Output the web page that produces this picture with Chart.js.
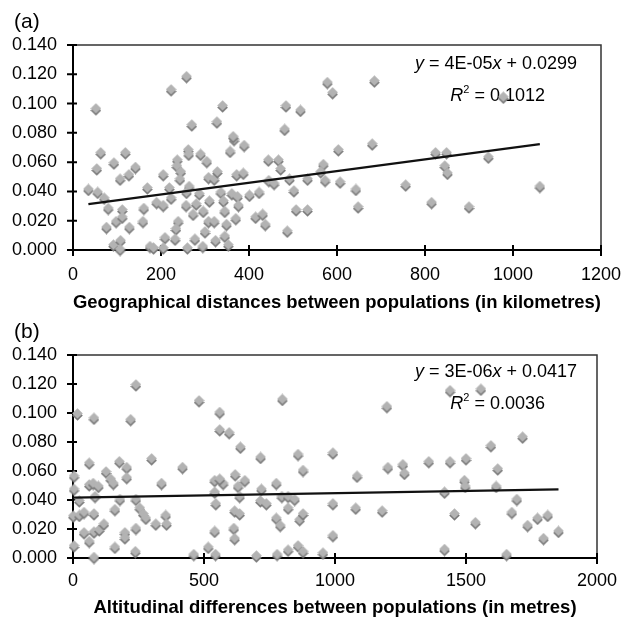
<!DOCTYPE html>
<html>
<head>
<meta charset="utf-8">
<title>Pairwise values vs distance and altitude</title>
<script src="https://cdn.jsdelivr.net/npm/chart.js@4.4.0/dist/chart.umd.min.js"></script>
<style>
  html, body { margin: 0; padding: 0; background: #fff; }
  #wrap { width: 634px; height: 622px; }
  canvas { display: block; }
</style>
</head>
<body>
<div id="wrap">
  <canvas id="chartA" width="634" height="318"></canvas>
  <canvas id="chartB" width="634" height="304"></canvas>
</div>
<script>
const FONT = "'Liberation Sans', Arial, sans-serif";

// (a) geographical distance between populations (km)
const geoDistKm = [
  35, 52, 63, 54, 56, 71, 80, 76, 93, 98, 92, 107, 112, 112, 108, 107, 119, 127, 128, 142,
  169, 161, 159, 175, 183, 190, 205, 205, 209, 205, 219, 223, 223, 237, 236, 245, 243, 239, 234, 232,
  258, 262, 263, 264, 258, 257, 273, 280, 270, 277, 260, 290, 287, 296, 304, 308, 310, 308, 300, 295,
  321, 328, 321, 324, 327, 340, 336, 342, 345, 349, 345, 353, 357, 366, 364, 361, 374, 376, 370, 372,
  387, 389, 401, 415, 423, 431, 437, 444, 445, 457, 467, 472, 484, 481, 492, 502, 507, 487, 517, 533,
  533, 569, 563, 573, 578, 590, 603, 607, 685, 680, 643, 648, 756, 815, 824, 849, 845, 851, 900, 944,
  978, 1061
];
const geoValue = [
  0.041, 0.096, 0.066, 0.055, 0.039, 0.035, 0.028, 0.015, 0.059, 0.019, 0.003, 0.048, 0.027, 0.022, 0.006, 0.000, 0.066, 0.051, 0.015, 0.056,
  0.042, 0.028, 0.019, 0.002, 0.001, 0.032, 0.030, 0.051, 0.008, 0.001, 0.042, 0.035, 0.109, 0.061, 0.057, 0.053, 0.048, 0.019, 0.014, 0.007,
  0.118, 0.068, 0.065, 0.043, 0.039, 0.030, 0.024, 0.031, 0.085, 0.007, 0.001, 0.065, 0.038, 0.026, 0.060, 0.049, 0.033, 0.019, 0.012, 0.002,
  0.048, 0.053, 0.019, 0.006, 0.087, 0.098, 0.039, 0.033, 0.026, 0.017, 0.009, 0.003, 0.067, 0.075, 0.077, 0.038, 0.036, 0.030, 0.021, 0.051,
  0.052, 0.071, 0.037, 0.022, 0.039, 0.024, 0.017, 0.061, 0.047, 0.045, 0.061, 0.055, 0.098, 0.082, 0.048, 0.040, 0.027, 0.0125, 0.095, 0.048,
  0.027, 0.058, 0.053, 0.047, 0.114, 0.107, 0.068, 0.046, 0.115, 0.072, 0.041, 0.029, 0.044, 0.032, 0.066, 0.066, 0.057, 0.052, 0.029, 0.063,
  0.104, 0.043
];
const geoTicksX = [0, 200, 400, 600, 800, 1000, 1200];
const geoSlope = 4e-5;
const geoIntercept = 0.0299;
const geoEquation = ['y', ' = 4E-05', 'x', ' + 0.0299'];
const geoR2 = ' = 0.1012';

// (b) altitudinal difference between populations (m)
const altDiffM = [
  17, 80, 240, 220, 62, 177, 300, 205, 205, 126, 144, 154, 4, 4, 24, 1, 24, 42, 62, 77,
  97, 84, 80, 42, 62, 80, 100, 118, 4, 80, 160, 179, 160, 198, 198, 240, 255, 268, 278, 240,
  238, 316, 338, 354, 357, 418, 461, 481, 516, 541, 541, 545, 541, 544, 560, 560, 596, 573, 560, 619,
  639, 630, 636, 617, 636, 614, 617, 656, 716, 719, 715, 738, 700, 776, 776, 791, 779, 799, 797, 821,
  821, 821, 846, 859, 878, 865, 878, 859, 878, 954, 992, 992, 992, 1198, 1084, 1079, 1180, 1202, 1259, 1265,
  1358, 1439, 1439, 1557, 1500, 1494, 1497, 1418, 1456, 1418, 1536, 1595, 1621, 1615, 1716, 1694, 1675, 1655, 1735, 1773,
  1812, 1796, 1853
];
const altValue = [
  0.099, 0.096, 0.119, 0.095, 0.065, 0.066, 0.068, 0.062, 0.055, 0.059, 0.054, 0.051, 0.056, 0.047, 0.039, 0.0285, 0.029, 0.031, 0.050, 0.051,
  0.049, 0.042, 0.030, 0.017, 0.011, 0.0175, 0.019, 0.023, 0.008, 0.000, 0.007, 0.040, 0.033, 0.017, 0.0135, 0.040, 0.034, 0.030, 0.027, 0.020,
  0.004, 0.023, 0.051, 0.029, 0.023, 0.062, 0.002, 0.108, 0.007, 0.053, 0.045, 0.037, 0.018, 0.002, 0.100, 0.088, 0.086, 0.051, 0.054, 0.057,
  0.076, 0.049, 0.042, 0.032, 0.030, 0.020, 0.013, 0.053, 0.069, 0.047, 0.039, 0.037, 0.001, 0.051, 0.027, 0.022, 0.002, 0.109, 0.042, 0.042,
  0.034, 0.005, 0.040, 0.071, 0.060, 0.026, 0.030, 0.008, 0.004, 0.003, 0.072, 0.037, 0.015, 0.104, 0.056, 0.034, 0.032, 0.062, 0.064, 0.058,
  0.066, 0.066, 0.115, 0.116, 0.068, 0.053, 0.049, 0.045, 0.030, 0.0055, 0.024, 0.077, 0.061, 0.049, 0.083, 0.040, 0.031, 0.002, 0.022, 0.027,
  0.029, 0.013, 0.018
];
const altTicksX = [0, 500, 1000, 1500, 2000];
const altSlope = 3e-6;
const altIntercept = 0.0417;
const altEquation = ['y', ' = 3E-06', 'x', ' + 0.0417'];
const altR2 = ' = 0.0036';

const yTicks = [0, 0.02, 0.04, 0.06, 0.08, 0.10, 0.12, 0.14];

// grey diamond with a darker drop shadow, like the Excel marker
function makeDiamond() {
  const c = document.createElement('canvas');
  c.width = 11;
  c.height = 13;
  const g = c.getContext('2d');
  function diamond(cy, color) {
    g.beginPath();
    g.moveTo(5.5, cy - 5.2);
    g.lineTo(10.8, cy);
    g.lineTo(5.5, cy + 5.2);
    g.lineTo(0.2, cy);
    g.closePath();
    g.fillStyle = color;
    g.fill();
  }
  diamond(7.6, '#7a7a7a');
  diamond(5.4, '#b3b3b3');
  return c;
}
const diamondMarker = makeDiamond();

// draws text runs; each run is [text, style] with style '', 'i' or 'sup'
function drawRuns(ctx, runs, right, y) {
  const size = 18;
  const fontFor = s => s === 'i' ? `italic ${size}px ${FONT}` : s === 'sup' ? `${11}px ${FONT}` : `${size}px ${FONT}`;
  let total = 0;
  runs.forEach(([t, s]) => { ctx.font = fontFor(s); total += ctx.measureText(t).width; });
  let x = right - total;
  ctx.textBaseline = 'middle';
  ctx.textAlign = 'left';
  ctx.fillStyle = '#000';
  runs.forEach(([t, s]) => {
    ctx.font = fontFor(s);
    ctx.fillText(t, x, s === 'sup' ? y - 6 : y);
    x += ctx.measureText(t).width;
  });
}

// top/right frame, crossing tick marks, panel letter and fit equation
const framePlugin = {
  id: 'frame',
  beforeDatasetsDraw(chart, args, opts) {
    const {ctx, chartArea: a, scales: {x, y}} = chart;
    ctx.save();
    ctx.strokeStyle = '#333';
    ctx.lineWidth = 1.5;
    ctx.beginPath();
    ctx.moveTo(a.left, a.top);
    ctx.lineTo(a.right, a.top);
    ctx.lineTo(a.right, a.bottom);
    ctx.stroke();

    ctx.strokeStyle = '#000';
    ctx.lineWidth = 2;
    ctx.beginPath();
    x.ticks.forEach(t => {
      const px = x.getPixelForValue(t.value);
      ctx.moveTo(px, a.bottom - 5);
      ctx.lineTo(px, a.bottom + 6);
    });
    y.ticks.forEach(t => {
      const py = y.getPixelForValue(t.value);
      ctx.moveTo(a.left - 6, py);
      ctx.lineTo(a.left + 4, py);
    });
    ctx.stroke();

    ctx.fillStyle = '#000';
    ctx.font = `21px ${FONT}`;
    ctx.textBaseline = 'middle';
    ctx.textAlign = 'left';
    ctx.fillText(opts.panel, 14, opts.panelY);

    const eq = opts.equation.map((t, i) => [t, i % 2 === 0 ? 'i' : '']);
    drawRuns(ctx, eq, opts.eqRight, opts.eqY);
    drawRuns(ctx, [['R', 'i'], ['2', 'sup'], [opts.r2, '']], opts.r2Right, opts.r2Y);
    ctx.restore();
  }
};

function buildChart(id, xs, ys, slope, intercept, xTicks, xTitle, texts, geom) {
  const points = xs.map((v, i) => ({x: v, y: ys[i]}));
  const xMin = Math.min(...xs);
  const xMax = Math.max(...xs);
  const trend = [
    {x: xMin, y: slope * xMin + intercept},
    {x: xMax, y: slope * xMax + intercept}
  ];
  return new Chart(document.getElementById(id), {
    type: 'scatter',
    data: {
      datasets: [
        {
          data: points,
          pointStyle: diamondMarker,
          pointRadius: 5,
          pointHoverRadius: 5,
          clip: false,
          order: 1
        },
        {
          type: 'line',
          data: trend,
          borderColor: '#111',
          borderWidth: 2.3,
          pointRadius: 0,
          fill: false,
          order: 0
        }
      ]
    },
    options: {
      responsive: false,
      animation: false,
      events: [],
      layout: { padding: { top: geom.top, right: geom.right, left: 0, bottom: 0 } },
      plugins: {
        legend: { display: false },
        tooltip: { enabled: false },
        frame: texts
      },
      scales: {
        x: {
          type: 'linear',
          min: xTicks[0],
          max: xTicks[xTicks.length - 1],
          afterBuildTicks: s => { s.ticks = xTicks.map(v => ({value: v})); },
          afterFit: s => { s.height = geom.xHeight; },
          grid: { display: false },
          border: { display: true, color: '#000', width: 2 },
          ticks: {
            padding: geom.xPad,
            color: '#000',
            font: { family: FONT, size: 18 },
            maxRotation: 0,
            autoSkip: false,
            callback: v => String(v)
          },
          title: {
            display: true,
            text: xTitle,
            color: '#000',
            font: { family: FONT, size: 18.5, weight: 'bold', lineHeight: 0.8 },
            padding: { top: 0, bottom: geom.titlePad }
          }
        },
        y: {
          min: yTicks[0],
          max: yTicks[yTicks.length - 1],
          afterBuildTicks: s => { s.ticks = yTicks.map(v => ({value: v})); },
          afterFit: s => { s.width = 73; },
          grid: { display: false },
          border: { display: true, color: '#000', width: 2 },
          ticks: {
            padding: 8,
            color: '#000',
            font: { family: FONT, size: 18 },
            callback: v => v.toFixed(3)
          }
        }
      }
    },
    plugins: [framePlugin]
  });
}

buildChart('chartA', geoDistKm, geoValue, geoSlope, geoIntercept, geoTicksX,
  'Geographical distances between populations (in kilometres)',
  { panel: '(a)', panelY: 22, equation: geoEquation, eqRight: 577, eqY: 64, r2: geoR2, r2Right: 545, r2Y: 96 },
  { top: 45, right: 33, xHeight: 68, xPad: 6, titlePad: 7.5 });

buildChart('chartB', altDiffM, altValue, altSlope, altIntercept, altTicksX,
  'Altitudinal differences between populations (in metres)',
  { panel: '(b)', panelY: 14, equation: altEquation, eqRight: 577, eqY: 54, r2: altR2, r2Right: 545, r2Y: 86 },
  { top: 37, right: 37, xHeight: 64, xPad: 4, titlePad: 7 });
</script>
</body>
</html>
